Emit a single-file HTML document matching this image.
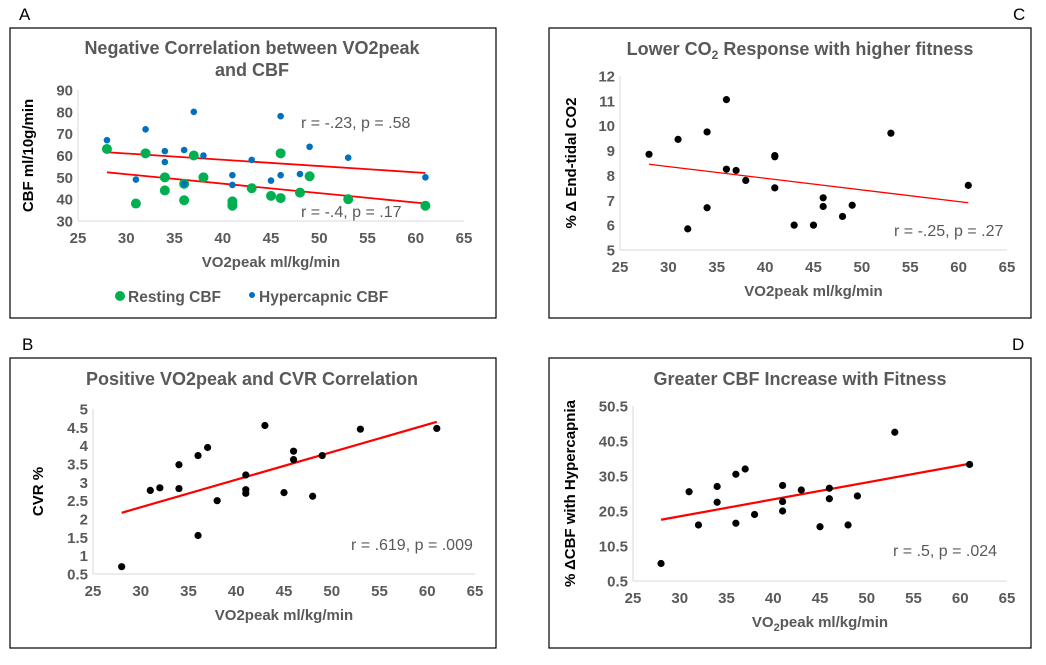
<!DOCTYPE html>
<html><head><meta charset="utf-8"><style>
body{margin:0;background:#fff;width:1046px;height:660px;overflow:hidden;font-family:"Liberation Sans",Arial,sans-serif}
svg text{font-family:"Liberation Sans",Arial,sans-serif}
</style></head><body>
<svg id="s" width="1046" height="660" xmlns="http://www.w3.org/2000/svg"></svg>
<script>
const xA=[28,31,32,34,34,36,36,37,38,41,41,41,43,45,46,46,48,49,53,61];
const restA=[63,38,61,50,44,47,39.5,60,50,39,37,37.5,45,41.5,40.5,61,43,50.5,40,37];
const xAh=[28,31,32,34,34,36,36,37,38,41,41,43,45,46,46,48,49,53,61];
const hypA=[67,49,72,62,57,62.5,47,80,60,51,46.5,58,48.5,78,51,51.5,64,59,50];
const xs=[28,31,32,34,34,36,36,37,38,41,41,41,43,45,46,46,48,49,53,61];
const co2C=[8.85,9.45,5.85,9.75,6.7,11.05,8.25,8.2,7.8,8.8,8.75,7.5,6,6,7.1,6.75,6.35,6.8,9.7,7.6];
const cvrB=[0.7,2.78,2.85,3.48,2.83,3.73,1.55,3.95,2.5,3.2,2.8,2.7,4.55,2.72,3.85,3.62,2.62,3.73,4.45,4.47];
const cbfD=[5.5,26,16.5,27.5,23,31,17,32.5,19.5,27.8,23.2,20.5,26.5,16,27,24,16.5,24.8,43,33.8];
const xTicks=[25,30,35,40,45,50,55,60,65];
const yTicksA=[30,40,50,60,70,80,90];
const yTicksB=[0.5,1,1.5,2,2.5,3,3.5,4,4.5,5];
const yTicksC=[5,6,7,8,9,10,11,12];
const yTicksD=[0.5,10.5,20.5,30.5,40.5,50.5];
const trendA1=[[28,61.5],[61,52]], trendA2=[[28,52.3],[61,38]];
const trendB=[[28,2.17],[61,4.65]], trendC=[[28,8.45],[61,6.9]], trendD=[[28,18],[61,34]];
const NS='http://www.w3.org/2000/svg', S=document.getElementById('s');
function el(t,a,p){const e=document.createElementNS(NS,t);for(const k in a)e.setAttribute(k,a[k]);(p||S).appendChild(e);return e;}
function txt(s,x,y,a,p){const e=el('text',Object.assign({x:x,y:y},a),p);e.textContent=s;return e;}
function panel(o){
  const g=el('g',{});
  
  
  const box=el('rect',{x:o.bx,y:o.by,width:o.bw,height:o.bh,fill:'none',stroke:'#000','stroke-width':1.2},g);
  
  const X=v=>o.x0+(v-25)/40*(o.x1-o.x0);
  const Y=v=>o.y0+(v-o.ymin)/(o.ymax-o.ymin)*(o.y1-o.y0);
  el('line',{x1:o.x0,y1:o.y0,x2:o.x1,y2:o.y0,stroke:'#d9d9d9'},g);
  el('line',{x1:o.x0,y1:o.y0,x2:o.x0,y2:o.y1,stroke:'#d9d9d9'},g);
  xTicks.forEach(v=>{const t=txt(v,X(v),o.y0+22,{'text-anchor':'middle','font-size':15,'font-weight':'bold',fill:'#595959'},g);});
  o.yt.forEach(v=>{const t=txt(v,o.x0-5,Y(v)+5.5,{'text-anchor':'end','font-size':15,'font-weight':'bold',fill:'#595959'},g);});
  o.title.forEach((l,i)=>{const t=el('text',{x:o.tx,y:o.ty+i*22,'text-anchor':'middle','font-size':18,'font-weight':'bold',fill:'#595959'},g);t.innerHTML=l;});
  const xt=el('text',{x:(o.x0+o.x1)/2,y:o.y0+46,'text-anchor':'middle','font-size':15,'font-weight':'bold',fill:'#595959'},g);xt.innerHTML=o.xtitle;
  const cy=(o.y0+o.y1)/2, yx=o.x0-(o.ytoff||48);
  const yt=el('text',{x:yx,y:cy,'text-anchor':'middle','font-size':15,'font-weight':'bold',fill:'#000',transform:`rotate(-90 ${yx} ${cy})`},g);yt.innerHTML=o.ytitle;
  o.trends.forEach(tr=>{const l=el('line',{x1:X(tr.d[0][0]),y1:Y(tr.d[0][1]),x2:X(tr.d[1][0]),y2:Y(tr.d[1][1]),stroke:'#ff0000','stroke-width':tr.w},g);});
  o.series.forEach(s=>{s.x.forEach((xv,i)=>{const c=el('circle',{cx:X(xv),cy:Y(s.y[i]),r:s.r,fill:s.c},g);});});
  o.notes.forEach(n=>{const t=txt(n[0],n[1],n[2],{'font-size':16,fill:'#595959'},g);});
  const lb=txt(o.label[0],o.label[1],o.label[2],{'font-size':17,fill:'#000'});
}
panel({name:'panel-a',bx:10,by:28,bw:486,bh:290,x0:78,x1:464,y0:221,y1:90,ymin:30,ymax:90,yt:yTicksA,ytoff:45,
 title:['Negative Correlation between VO2peak','and CBF'],tx:252,ty:54,xtitle:'VO2peak ml/kg/min',ytitle:'CBF ml/10g/min',
 trends:[{d:trendA1,w:1.8},{d:trendA2,w:1.8}],
 series:[{x:xA,y:restA,r:5,c:'#00b050'},{x:xAh,y:hypA,r:3.3,c:'#0070c0'}],
 notes:[['r = -.23, p = .58',301,128],['r = -.4, p = .17',301,217]],label:['A',19,20]});
panel({name:'panel-c',bx:549,by:28,bw:482,bh:290,x0:620,x1:1007,y0:250,y1:76,ymin:5,ymax:12,yt:yTicksC,ytoff:44,
 title:['Lower CO<tspan font-size="12" dy="4">2</tspan><tspan dy="-4"> Response with higher fitness</tspan>'],tx:800,ty:55,xtitle:'VO2peak ml/kg/min',ytitle:'% Δ End-tidal CO2',
 trends:[{d:trendC,w:1.3}],series:[{x:xs,y:co2C,r:3.6,c:'#000'}],
 notes:[['r = -.25, p = .27',894,236]],label:['C',1013,20]});
panel({name:'panel-b',bx:10,by:358,bw:486,bh:290,x0:93,x1:475,y0:574,y1:409,ymin:0.5,ymax:5,yt:yTicksB,ytoff:50,
 title:['Positive VO2peak and CVR Correlation'],tx:252,ty:385,xtitle:'VO2peak ml/kg/min',ytitle:'CVR %',
 trends:[{d:trendB,w:2.2}],series:[{x:xs,y:cvrB,r:3.6,c:'#000'}],
 notes:[['r = .619, p = .009',351,550]],label:['B',22,350]});
panel({name:'panel-d',bx:549,by:358,bw:482,bh:290,x0:633,x1:1007,y0:581,y1:406,ymin:0.5,ymax:50.5,yt:yTicksD,ytoff:58,
 title:['Greater CBF Increase with Fitness'],tx:800,ty:385,xtitle:'VO<tspan font-size="11" dy="4">2</tspan><tspan dy="-4">peak ml/kg/min</tspan>',ytitle:'% ΔCBF with Hypercapnia',
 trends:[{d:trendD,w:2.2}],series:[{x:xs,y:cbfD,r:3.6,c:'#000'}],
 notes:[['r = .5, p = .024',893,556]],label:['D',1012,350]});
const lg=el('g',{});
el('circle',{cx:120,cy:296,r:5,fill:'#00b050'},lg);
const l1=txt('Resting CBF',128,302,{'font-size':15.5,'font-weight':'bold',fill:'#595959'},lg);
el('circle',{cx:252,cy:295,r:3,fill:'#0070c0'},lg);
const l2=txt('Hypercapnic CBF',259,302,{'font-size':15.5,'font-weight':'bold',fill:'#595959'},lg);
</script>
</body></html>
